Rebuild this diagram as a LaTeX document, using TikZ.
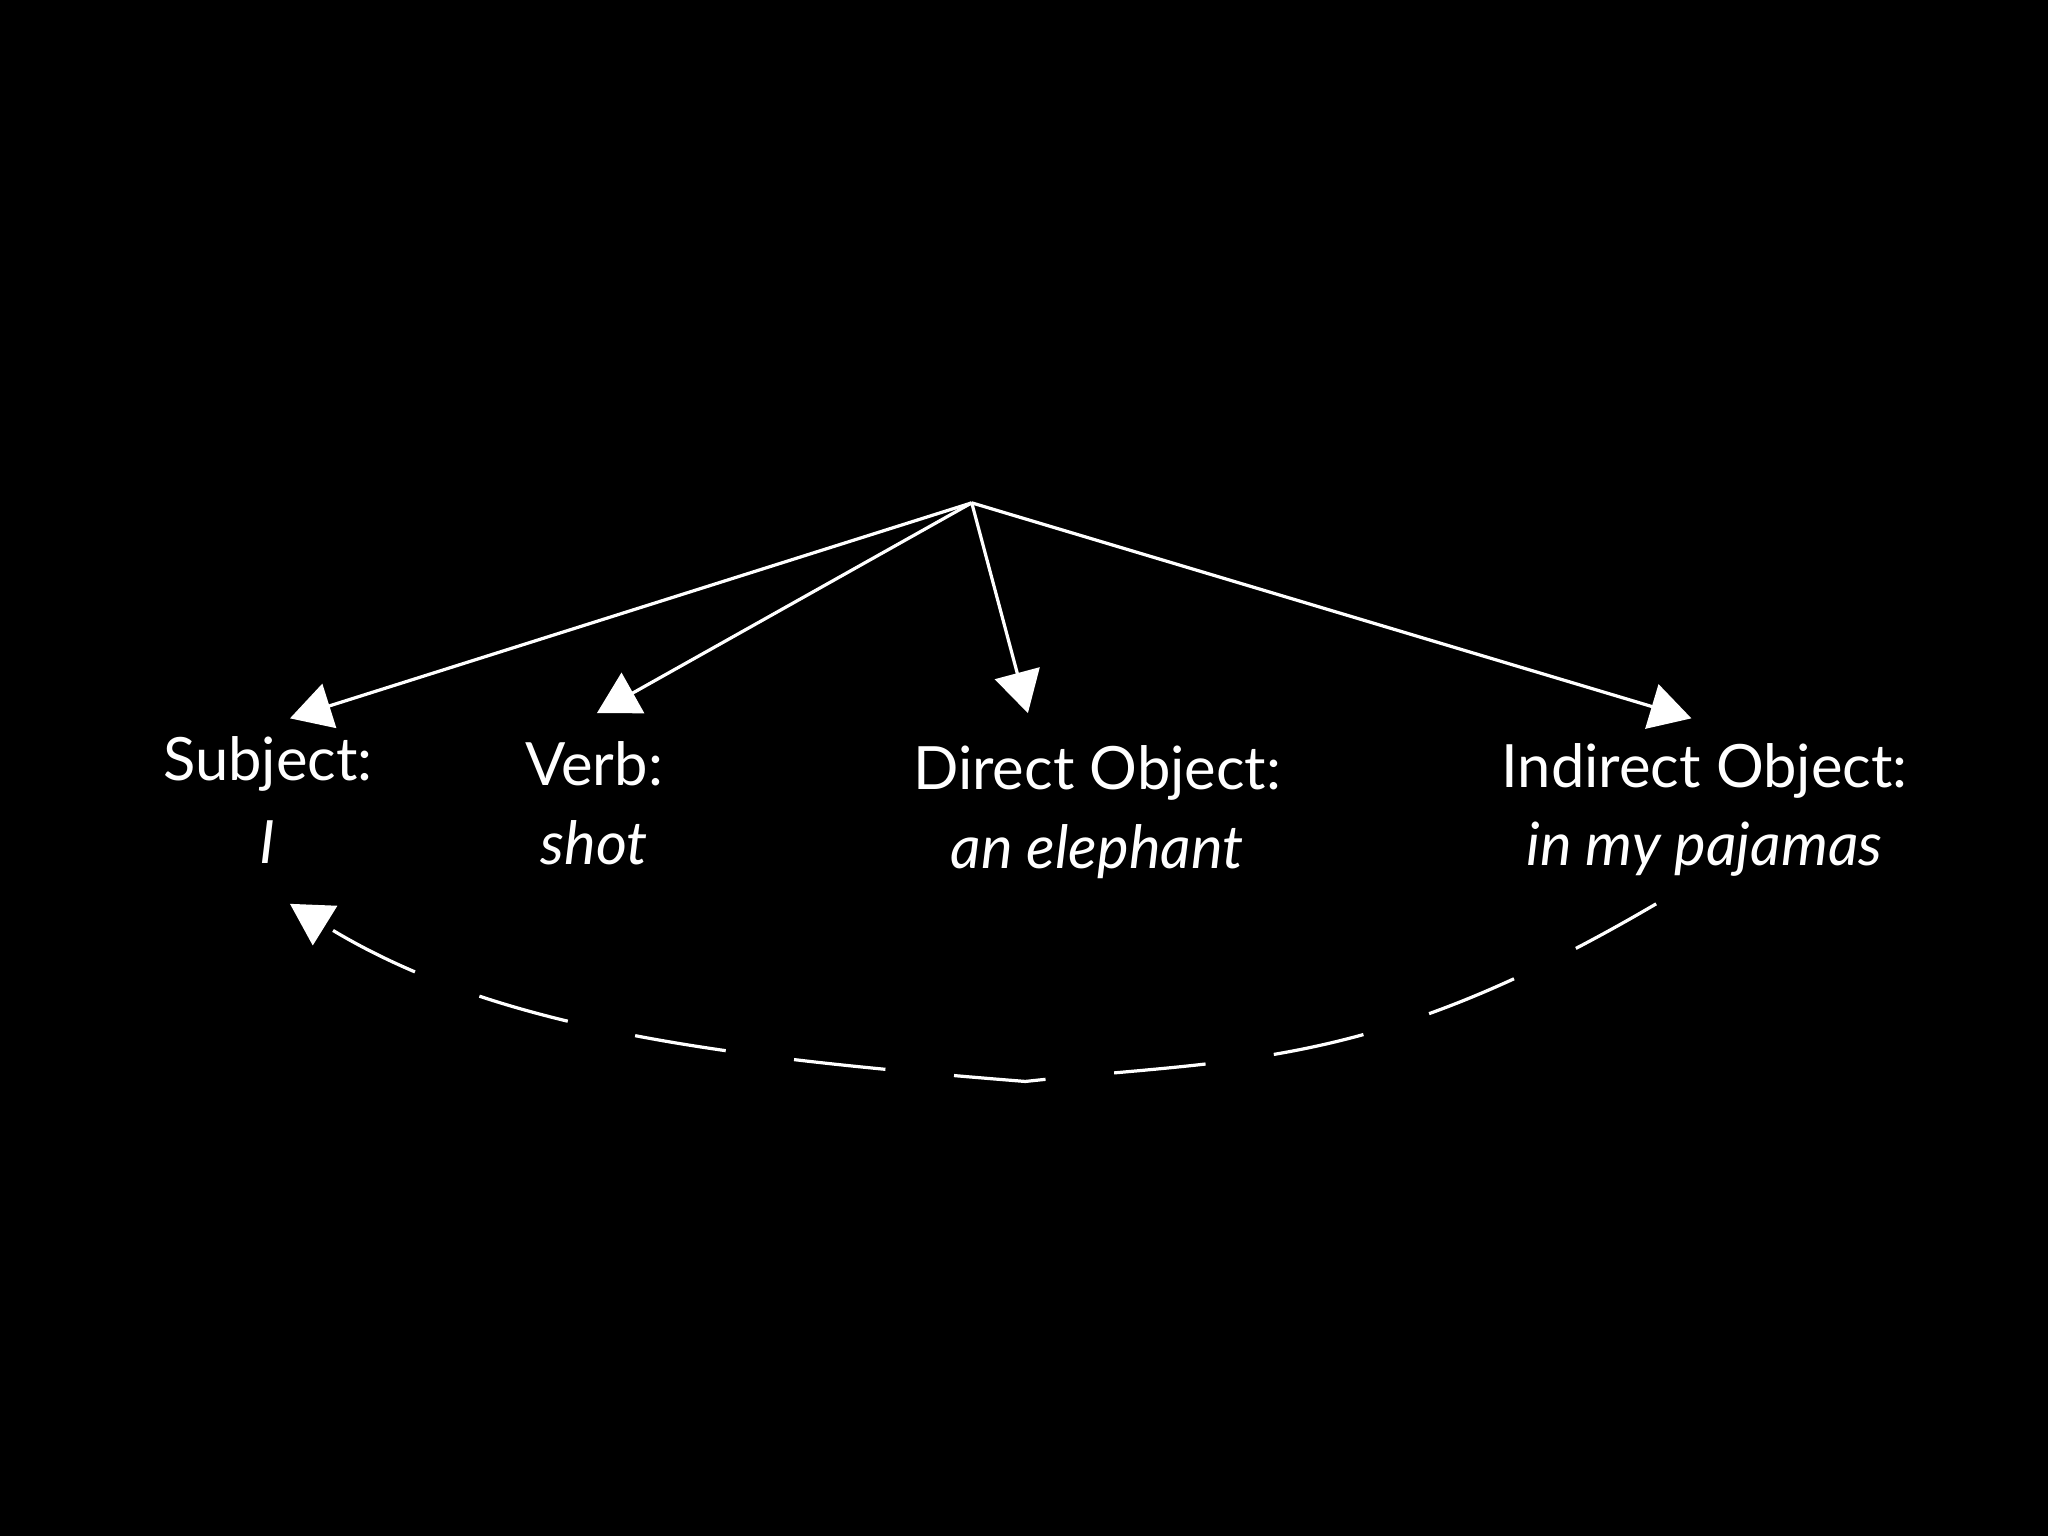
\documentclass[tikz,border=0pt]{standalone}
\usepackage{fontspec}
\setmainfont{Lato}
\usetikzlibrary{arrows.meta}
\begin{document}
\begin{tikzpicture}[x=0.01cm,y=-0.01cm,
  lbl/.style={text=white,font=\fontsize{13}{15}\selectfont,inner sep=0pt},
  arr/.style={white,line width=0.7pt,-{Triangle[length=9pt,width=10pt]}}]
\fill[black] (0,0) rectangle (1568,1176);
\coordinate (top) at (744,385);
\node[lbl] (s1) at (205,585) {Subject:};
\node[lbl] (s2) at (205,645) {\itshape I};
\node[lbl] (v1) at (455,585) {Verb:};
\node[lbl] (v2) at (455,645) {\itshape shot};
\node[lbl] (d1) at (840,592) {Direct Object:};
\node[lbl] (d2) at (840,652) {\itshape an elephant};
\node[lbl] (i1) at (1305,590) {Indirect Object:};
\node[lbl] (i2) at (1305,650) {\itshape in my pajamas};
\coordinate (sa) at (222,550);
\coordinate (va) at (457,546);
\coordinate (da) at (787,546);
\coordinate (ia) at (1295,550);
\draw[arr] (top) -- (sa);
\draw[arr] (top) -- (va);
\draw[arr] (top) -- (da);
\draw[arr] (top) -- (ia);
\coordinate (cs) at (1268,692);
\coordinate (ce) at (222,692);
\draw[arr,dash pattern=on 20pt off 15pt] (cs) .. controls (1050,820) and (950,810) .. (785,828) .. controls (560,810) and (380,790) .. (ce);
\end{tikzpicture}
\end{document}
